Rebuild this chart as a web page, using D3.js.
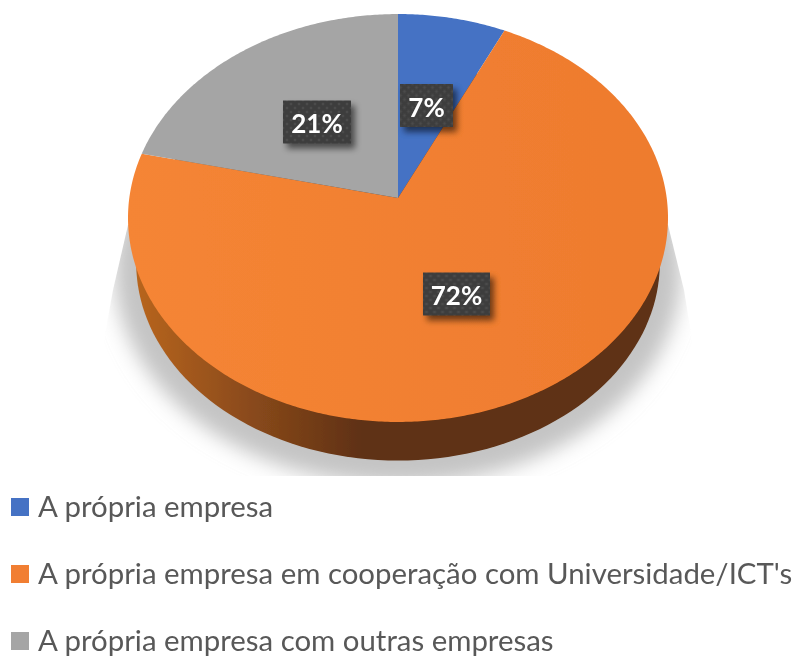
<!DOCTYPE html>
<html>
<head>
<meta charset="utf-8">
<script src="https://cdnjs.cloudflare.com/ajax/libs/d3/7.8.5/d3.min.js"></script>
<style>
  html, body { margin: 0; padding: 0; background: #fff; }
  text { font-family: Lato, "Open Sans", sans-serif; }
</style>
</head>
<body>
<div class="chart"></div>
<script>
// Data
let categories = ["A própria empresa", "A própria empresa em cooperação com Universidade/ICT's", "A própria empresa com outras empresas"];
let shares = [7.1, 71.5, 21.4];
let colors = ["#4472c4", "#f17e30", "#a5a5a5"];

let svgWidth = 795;
let svgHeight = 656;

let svg = d3.select(".chart").append("svg")
  .attr("width", svgWidth).attr("height", svgHeight)
  .style("display", "block");

let defs = svg.append("defs");

// the reference is a slightly soft upscaled image
let soft = defs.append("filter").attr("id", "soft");
soft.append("feGaussianBlur").attr("stdDeviation", 0.6);

let shadowBlur = defs.append("filter").attr("id", "shadowBlur")
  .attr("x", "-20%").attr("y", "-20%").attr("width", "140%").attr("height", "140%");
shadowBlur.append("feGaussianBlur").attr("stdDeviation", 10);

let boxBlur = defs.append("filter").attr("id", "boxBlur")
  .attr("x", "-30%").attr("y", "-30%").attr("width", "160%").attr("height", "160%");
boxBlur.append("feGaussianBlur").attr("stdDeviation", 3);

// side wall shading
let wallGrad = defs.append("linearGradient").attr("id", "wallGrad")
  .attr("gradientUnits", "userSpaceOnUse")
  .attr("x1", 135).attr("x2", 365).attr("y1", 0).attr("y2", 0);
wallGrad.append("stop").attr("offset", 0).attr("stop-color", "#b8651f");
wallGrad.append("stop").attr("offset", 0.5).attr("stop-color", "#8a4a1b");
wallGrad.append("stop").attr("offset", 1).attr("stop-color", "#5e3012");

let topGrad = defs.append("linearGradient").attr("id", "topGrad")
  .attr("gradientUnits", "userSpaceOnUse")
  .attr("x1", 130).attr("x2", 660).attr("y1", 300).attr("y2", 260);
topGrad.append("stop").attr("offset", 0).attr("stop-color", "#f58535");
topGrad.append("stop").attr("offset", 1).attr("stop-color", "#ee7b2e");

// dotted texture of the data labels
let dots = defs.append("pattern").attr("id", "dots")
  .attr("patternUnits", "userSpaceOnUse").attr("width", 8).attr("height", 8);
dots.append("rect").attr("width", 8).attr("height", 8).attr("fill", "#3e3e3e");
dots.append("circle").attr("cx", 2).attr("cy", 2).attr("r", 1.2).attr("fill", "#4c4c4c");
dots.append("circle").attr("cx", 6).attr("cy", 6).attr("r", 1.2).attr("fill", "#4c4c4c");

let root = svg.append("g").attr("filter", "url(#soft)");

// Tilted disc: unit circle through a perspective projection
let centerX = 398;
let radiusX = 268.7;
let persp = -0.098;
let scaleY = 182.6;
let centerY = 198;

function project(angle, k, dy) {
  let u = Math.sin(angle) * k;
  let v = -Math.cos(angle) * k;
  let w = 1 + persp * v;
  return [centerX + radiusX * u / w, (centerY + scaleY * v) / w + dy];
}

let line = d3.line();
let fullCircle = d3.range(0, 361, 2).map(d => d * Math.PI / 180);

// Ground shadow
let shadowClip = defs.append("clipPath").attr("id", "shadowClip");
shadowClip.append("polygon")
  .attr("points", [[128, 225], [113, 290], [104, 340], [95, 476], [700, 476], [692, 340], [684, 290], [668, 225]].join(" "));

root.append("g").attr("clip-path", "url(#shadowClip)")
  .append("path")
  .attr("d", line(fullCircle.map(a => project(a, 1.05, 50))) + "Z")
  .attr("fill", "#c4c4c4")
  .attr("filter", "url(#shadowBlur)");

// Side wall
root.append("path")
  .attr("d", line(fullCircle.map(a => project(a, 0.97, 46))) + "Z")
  .attr("fill", "url(#wallGrad)");

// Top surface
let pie = d3.pie().sort(null)(shares);

root.selectAll("path.slice")
  .data(pie)
  .enter()
  .append("path")
  .attr("class", "slice")
  .attr("d", d => {
    let steps = d3.range(d.startAngle, d.endAngle, 0.01).concat([d.endAngle]);
    return line([[centerX, centerY]].concat(steps.map(a => project(a, 1, 0)))) + "Z";
  })
  .attr("fill", (d, i) => i == 1 ? "url(#topGrad)" : colors[i]);

// Data labels
let labelCenters = [[426.5, 105.5], [456.5, 294], [317, 122]];
let boxW = [53, 67, 68];
let boxH = 43;

let labels = root.selectAll("g.label")
  .data(pie)
  .enter()
  .append("g")
  .attr("class", "label")
  .attr("transform", (d, i) => `translate(${labelCenters[i][0]}, ${labelCenters[i][1]})`);

labels.append("rect")
  .attr("x", (d, i) => -boxW[i] / 2 + 4)
  .attr("y", -boxH / 2 + 5)
  .attr("width", (d, i) => boxW[i])
  .attr("height", boxH)
  .attr("fill", "#000")
  .attr("opacity", 0.55)
  .attr("filter", "url(#boxBlur)");

labels.append("rect")
  .attr("x", (d, i) => -boxW[i] / 2)
  .attr("y", -boxH / 2)
  .attr("width", (d, i) => boxW[i])
  .attr("height", boxH)
  .attr("fill", "url(#dots)");

labels.append("text")
  .attr("text-anchor", "middle")
  .attr("y", 11)
  .attr("fill", "#fff")
  .style("font-size", "26px")
  .style("font-weight", "700")
  .text(d => Math.round(d.data) + "%");

// Legend
let legendY = d3.scalePoint().domain(categories).range([508, 642]);

let legend = root.selectAll("g.legend")
  .data(categories)
  .enter()
  .append("g")
  .attr("class", "legend")
  .attr("transform", d => `translate(0, ${legendY(d)})`);

legend.append("rect")
  .attr("x", 11).attr("y", -10)
  .attr("width", 18).attr("height", 18)
  .attr("fill", (d, i) => colors[i]);

legend.append("text")
  .attr("x", 38).attr("y", 9)
  .attr("fill", "#595959")
  .style("font-size", "29.4px")
  .text(d => d);
</script>
</body>
</html>
